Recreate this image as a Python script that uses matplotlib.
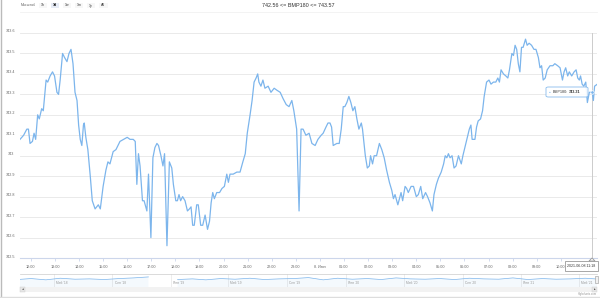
import datetime as dt
import matplotlib
matplotlib.use("Agg")
import matplotlib.pyplot as plt
from matplotlib.patches import Rectangle, FancyBboxPatch, Polygon
from matplotlib.transforms import ScaledTranslation

plt.rcParams['font.family'] = ['Liberation Sans', 'DejaVu Sans']

noon = dt.datetime(2021, 6, 7, 12, 0)

# minutes after 2021-06-07 12:00, BMP180 readings
minutes = [-27, -18, -10, -6, -2, 4, 8, 12, 17, 21, 27, 31, 38, 42, 48, 54, 59, 65, 69, 73,
           79, 84, 90, 95, 100, 105, 110, 115, 119, 123, 127, 131, 133, 137, 142, 148, 153, 160, 168, 173,
           180, 187, 192, 197, 205, 212, 222, 231, 240, 247, 255, 260, 264, 268, 272, 278, 282, 289, 293, 299,
           304, 309, 314, 318, 324, 329, 333, 339, 345, 351, 355, 361, 365, 369, 373, 378, 384, 390, 395, 399,
           403, 407, 413, 417, 423, 428, 434, 440, 445, 449, 453, 457, 463, 470, 476, 482, 488, 492, 496, 504,
           513, 521, 528, 534, 539, 546, 551, 556, 561, 565, 568, 573, 578, 583, 591, 598, 606, 613, 621, 628,
           636, 643, 650, 655, 662, 668, 673, 678, 685, 693, 700, 708, 715, 723, 728, 735, 740, 745, 749, 753,
           762, 768, 773, 778, 782, 787, 792, 797, 802, 807, 812, 817, 823, 826, 833, 838, 843, 846, 851, 855,
           861, 868, 874, 880, 886, 893, 899, 903, 907, 914, 918, 922, 926, 932, 936, 940, 947, 953, 960, 965,
           971, 976, 983, 988, 994, 1000, 1004, 1010, 1015, 1022, 1028, 1032, 1036, 1040, 1044, 1049, 1054, 1059, 1065, 1072,
           1076, 1081, 1087, 1092, 1096, 1099, 1106, 1110, 1114, 1120, 1125, 1129, 1135, 1141, 1146, 1152, 1158, 1163, 1167, 1171,
           1177, 1183, 1188, 1192, 1198, 1202, 1206, 1210, 1214, 1218, 1222, 1226, 1232, 1236, 1241, 1247, 1253, 1258, 1264, 1268,
           1272, 1276, 1281, 1286, 1293, 1300, 1305, 1312, 1318, 1324, 1328, 1332, 1337, 1341, 1347, 1353, 1358, 1362, 1366, 1369,
           1373, 1377, 1382, 1386, 1391, 1398, 1401, 1404, 1411]
bmp180 = [743.08, 743.10, 743.13, 743.13, 743.06, 743.07, 743.11, 743.08, 743.20, 743.18, 743.23, 743.22, 743.37, 743.36, 743.39, 743.41, 743.39, 743.31, 743.30, 743.37,
          743.50, 743.48, 743.46, 743.50, 743.52, 743.45, 743.31, 743.27, 743.15, 743.08, 743.05, 743.15, 743.16, 743.09, 743.03, 742.90, 742.78, 742.74, 742.76, 742.74,
          742.85, 742.93, 742.97, 742.96, 743.02, 743.03, 743.07, 743.08, 743.09, 743.08, 743.08, 743.07, 742.86, 743.01, 742.95, 742.78, 742.78, 742.73, 742.91, 742.60,
          742.99, 743.04, 743.06, 743.05, 743.00, 742.95, 743.01, 742.56, 742.97, 742.94, 742.86, 742.78, 742.78, 742.81, 742.78, 742.80, 742.78, 742.73, 742.74, 742.75,
          742.66, 742.66, 742.76, 742.76, 742.66, 742.66, 742.71, 742.64, 742.68, 742.77, 742.82, 742.79, 742.82, 742.82, 742.84, 742.85, 742.91, 742.87, 742.91, 742.91,
          742.92, 742.92, 742.97, 743.01, 743.11, 743.20, 743.27, 743.36, 743.38, 743.40, 743.36, 743.34, 743.37, 743.33, 743.34, 743.31, 743.33, 743.32, 743.31, 743.28,
          743.25, 743.24, 743.27, 743.22, 743.13, 742.73, 743.13, 743.13, 743.10, 743.11, 743.06, 743.05, 743.08, 743.10, 743.11, 743.14, 743.16, 743.16, 743.14, 743.05,
          743.06, 743.06, 743.13, 743.24, 743.24, 743.26, 743.29, 743.26, 743.22, 743.24, 743.18, 743.13, 743.16, 743.13, 743.00, 742.94, 742.95, 743.00, 742.96, 743.00,
          743.00, 743.06, 743.03, 742.99, 742.93, 742.87, 742.83, 742.79, 742.81, 742.76, 742.79, 742.82, 742.78, 742.85, 742.84, 742.82, 742.85, 742.85, 742.80, 742.81,
          742.85, 742.79, 742.82, 742.80, 742.77, 742.73, 742.81, 742.86, 742.89, 742.92, 742.96, 743.00, 742.99, 743.01, 742.99, 743.00, 742.94, 742.95, 743.00, 742.96,
          743.00, 743.04, 743.09, 743.13, 743.15, 743.08, 743.08, 743.14, 743.17, 743.18, 743.22, 743.29, 743.36, 743.37, 743.35, 743.36, 743.36, 743.38, 743.36, 743.42,
          743.40, 743.39, 743.38, 743.42, 743.50, 743.49, 743.54, 743.52, 743.45, 743.41, 743.53, 743.53, 743.57, 743.54, 743.55, 743.54, 743.52, 743.52, 743.48, 743.43,
          743.44, 743.37, 743.38, 743.42, 743.44, 743.44, 743.45, 743.44, 743.43, 743.37, 743.41, 743.43, 743.39, 743.41, 743.39, 743.41, 743.42, 743.38, 743.37, 743.39,
          743.35, 743.34, 743.36, 743.26, 743.31, 743.31, 743.27, 743.34, 743.35]

y_ticks = [742.5, 742.6, 742.7, 742.8, 742.9, 743.0, 743.1, 743.2, 743.3, 743.4, 743.5, 743.6]
hour_ticks = list(range(0, 23))
buttons = ["1h", "1d", "1w", "1m", "1y", "All"]
selected_button = "1d"
title = "742.56 <= BMP180 <= 743.57"
hover_minute = 1398
hover_value = 743.31
hover_label = "2021-06-08 11:18"

# navigator (long history), one value per month, None = gap
nav_months = ["2018-02", "2018-03", "2018-04", "2018-05", "2018-06", "2018-07", "2018-08", "2018-09", "2018-10", "2018-11",
              "2018-12", "2019-01", "2019-02", "2019-03", "2019-04", "2019-05", "2019-06", "2019-07", "2019-08", "2019-09",
              "2019-10", "2019-11", "2019-12", "2020-01", "2020-02", "2020-03", "2020-04", "2020-05", "2020-06", "2020-07",
              "2020-08", "2020-09", "2020-10", "2020-11", "2020-12", "2021-01", "2021-02", "2021-03", "2021-04", "2021-05", "2021-06"]
nav_values = [748, 751, 747, 752, 749, 750, 748, 751, 753, 756,
              None, 748, 750, 747, 751, 749, 752, 748, 750, 751,
              754, 747, 752, 749, 751, 748, 753, 750, 749, 751,
              748, 752, 750, 749, 753, 748, 751, 749, 750, 752, 749]
nav_labels = ["Май '18", "Сен '18", "Янв '19", "Май '19", "Сен '19", "Янв '20", "Май '20", "Сен '20", "Янв '21", "Май '21"]
nav_label_months = ["2018-05", "2018-09", "2019-01", "2019-05", "2019-09", "2020-01", "2020-05", "2020-09", "2021-01", "2021-05"]

W, H = 600, 298
fig = plt.figure(figsize=(W / 100, H / 100), dpi=100)


def fx(x):
    return x / W


def fy(y):
    return 1 - y / H


line_col = "#7cb5ec"
txt_col = "#666666"

ax = fig.add_axes([fx(20), fy(258), 577 / W, 225 / H])
times = [noon + dt.timedelta(minutes=m) for m in minutes]
ax.plot(times, bmp180, color=line_col, lw=0.9, zorder=3)
ax.set_ylim(742.5, 743.6)
ax.set_xlim(noon - dt.timedelta(minutes=27), noon + dt.timedelta(minutes=1410))
ax.set_yticks(y_ticks)
ax.set_yticklabels([f"{v:g}" for v in y_ticks])
ax.yaxis.grid(True, color="#e6e6e6", lw=0.6)
ax.set_axisbelow(True)
for s in ["top", "right", "left"]:
    ax.spines[s].set_visible(False)
ax.spines["bottom"].set_color("#ccd6eb")
ax.spines["bottom"].set_linewidth(0.8)
ax.tick_params(axis="y", length=0, pad=6.8, labelsize=2.7, labelcolor=txt_col)
for lab in ax.get_yticklabels():
    lab.set_horizontalalignment("center")
    lab.set_transform(lab.get_transform() + ScaledTranslation(0, 0.02, fig.dpi_scale_trans))

xt = [noon + dt.timedelta(hours=h) for h in hour_ticks]
ax.set_xticks(xt)
ax.set_xticklabels(["8. Июн" if t.hour == 0 else t.strftime("%H:%M") for t in xt])
ax.tick_params(axis="x", length=2.5, width=0.6, color="#ccd6eb", pad=2.5, labelsize=2.7, labelcolor=txt_col)

# crosshair + tooltip
ht = noon + dt.timedelta(minutes=hover_minute)
ax.axvline(ht, color="#cccccc", lw=0.7, zorder=2)
ax.plot([ht], [hover_value], "o", ms=2.5, mfc=line_col, mec="white", mew=0.5, zorder=4)
fig.patches.append(FancyBboxPatch((fx(546), fy(97)), 42 / W, 10 / H, boxstyle="round,pad=0,rounding_size=0.004",
                                  transform=fig.transFigure, fc="white", ec=line_col, lw=0.6, alpha=0.9))
fig.text(fx(548.5), fy(92), "●", color=line_col, fontsize=2.2, va="center", ha="left")
fig.text(fx(552.5), fy(92), "BMP180:", color="#333333", fontsize=2.7, va="center", ha="left")
fig.text(fx(568.5), fy(92), "743.31", color="#333333", fontsize=2.7, va="center", ha="left", fontweight="bold")

fig.patches.append(Rectangle((fx(565), fy(271)), 33 / W, 10 / H, transform=fig.transFigure,
                             fc="white", ec="#999999", lw=0.6))
fig.patches.append(Polygon([(fx(589), fy(261)), (fx(592), fy(258)), (fx(595), fy(261))], closed=True,
                           transform=fig.transFigure, fc="white", ec="#999999", lw=0.6))
fig.text(fx(581.5), fy(266), hover_label, color="#333333", fontsize=2.6, ha="center", va="center")

# title and range selector
fig.text(fx(298), fy(5.5), title, color="#333333", fontsize=3.9, ha="center", va="center")
fig.text(fx(20.5), fy(5.5), "Масштаб", color=txt_col, fontsize=2.5, ha="left", va="center")
bx = 39
for b in buttons:
    w = 8 if len(b) < 3 else 8.5
    fc = "#e6ebf5" if b == selected_button else "#f7f7f7"
    fig.patches.append(Rectangle((fx(bx), fy(8.3)), w / W, 5.6 / H, transform=fig.transFigure, fc=fc, ec="none"))
    fig.text(fx(bx + w / 2), fy(5.5), b, color="#000000" if b == selected_button else "#333333",
             fontsize=2.5, ha="center", va="center", fontweight="bold" if b == selected_button else "normal")
    bx += 12
fig.lines.append(plt.Line2D([fx(20), fx(597)], [fy(12), fy(12)], transform=fig.transFigure, color="#eeeeee", lw=0.5))

# navigator
nav = fig.add_axes([fx(20), fy(287), 577 / W, 13 / H])
nav_x = [dt.datetime.strptime(m + "-15", "%Y-%m-%d") for m in nav_months]
nav_y = [float("nan") if v is None else v for v in nav_values]
nav.plot(nav_x, nav_y, color=line_col, lw=0.5)
nav.fill_between(nav_x, nav_y, 700, color=line_col, alpha=0.08, lw=0)
nav.set_ylim(725, 765)
nav.set_xlim(dt.datetime(2018, 2, 20), dt.datetime(2021, 6, 8, 11, 30))
for s in ["left", "right", "bottom"]:
    nav.spines[s].set_visible(False)
nav.spines["top"].set_color("#cccccc")
nav.spines["top"].set_linewidth(0.5)
nav.set_yticks([])
nav.set_xticks([])
for lab, m in zip(nav_labels, nav_label_months):
    d = dt.datetime.strptime(m + "-01", "%Y-%m-%d")
    nav.axvline(d, color="#e6e6e6", lw=0.5, zorder=0)
    nav.annotate(lab, (d, 0), xycoords=("data", "axes fraction"), xytext=(1.5, 1.2), textcoords="offset points",
                 fontsize=2.3, color="#999999", ha="left", va="bottom")
# selected range handle
nav.axvline(dt.datetime(2021, 6, 7, 11, 30), color="#cccccc", lw=0.5)
fig.patches.append(Rectangle((fx(594.5), fy(283)), 3 / W, 7 / H, transform=fig.transFigure,
                             fc="#f2f2f2", ec="#999999", lw=0.4))

# scrollbar
fig.patches.append(Rectangle((fx(20), fy(292)), 577 / W, 5 / H, transform=fig.transFigure, fc="#f2f2f2", ec="none"))
for x0, arrow in [(20, "◂"), (592, "▸")]:
    fig.patches.append(Rectangle((fx(x0), fy(292)), 5 / W, 5 / H, transform=fig.transFigure,
                                 fc="#e6e6e6", ec="#cccccc", lw=0.3))
    fig.text(fx(x0 + 2.5), fy(289.5), arrow, fontsize=2.5, color="#333333", ha="center", va="center",
             family="DejaVu Sans")

fig.text(fx(597), fy(294.5), "Highcharts.com", color="#999999", fontsize=2, ha="right", va="center")
fig.lines.append(plt.Line2D([fx(0.5), fx(0.5)], [0, 1], transform=fig.transFigure, color="#bbbbbb", lw=1))
fig.lines.append(plt.Line2D([0, 1], [fy(297), fy(297)], transform=fig.transFigure, color="#dddddd", lw=1))

fig.savefig("out.png", dpi=100, facecolor="white")
